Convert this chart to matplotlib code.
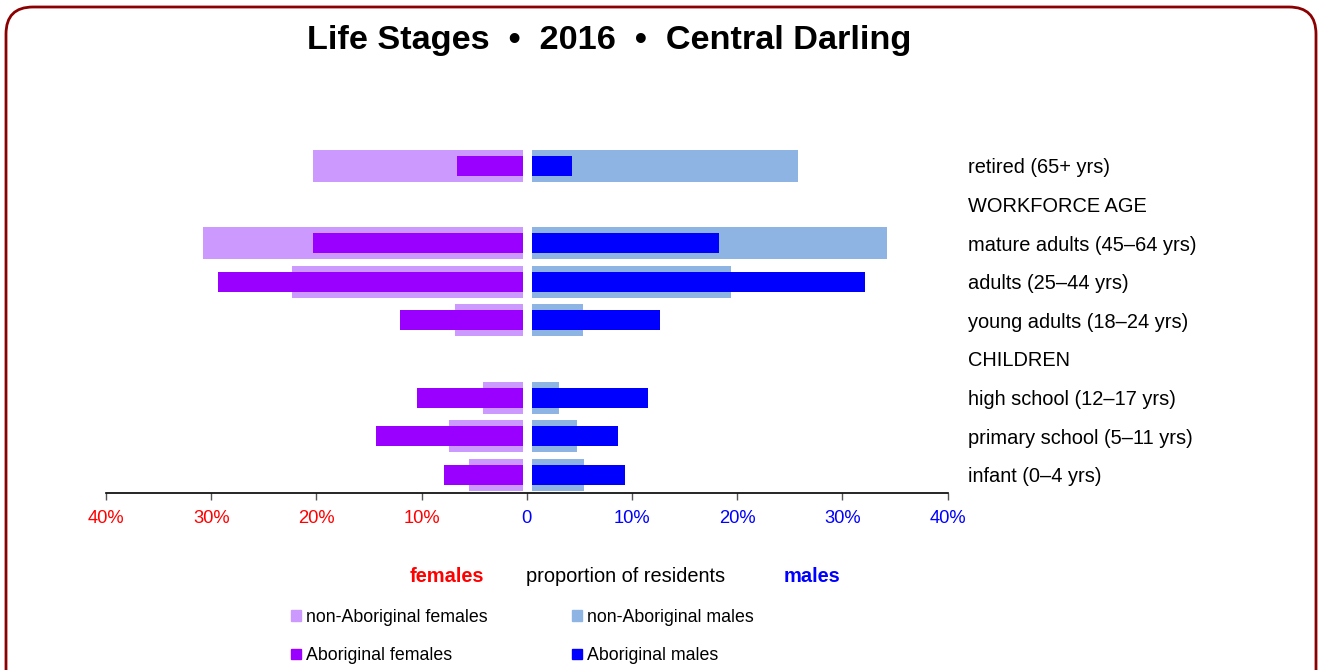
import matplotlib
matplotlib.use("Agg")
import matplotlib.pyplot as plt
from matplotlib.patches import Patch, FancyBboxPatch
import numpy as np

plt.rcParams['font.family'] = ['Liberation Sans', 'DejaVu Sans']

stages = ['retired (65+ yrs)', 'WORKFORCE AGE', 'mature adults (45\u201364 yrs)',
          'adults (25\u201344 yrs)', 'young adults (18\u201324 yrs)', 'CHILDREN',
          'high school (12\u201317 yrs)', 'primary school (5\u201311 yrs)',
          'infant (0\u20134 yrs)']
nonab_f = [20.3, 0, 30.8, 22.3, 6.8, 0, 4.2, 7.4, 5.5]
ab_f = [6.6, 0, 20.3, 29.4, 12.1, 0, 10.4, 14.3, 7.9]
nonab_m = [25.8, 0, 34.2, 19.4, 5.35, 0, 3.1, 4.8, 5.4]
ab_m = [4.3, 0, 18.3, 32.1, 12.7, 0, 11.5, 8.7, 9.3]
ticks = [-40, -30, -20, -10, 0, 10, 20, 30, 40]

c_nonab_f = '#CC99FF'
c_ab_f = '#9900FF'
c_nonab_m = '#8EB4E3'
c_ab_m = '#0000FF'
red = '#FF0000'
blue = '#0000FF'

fig = plt.figure(figsize=(13.2, 6.7), dpi=100)
ax = fig.add_axes([106 / 1320, 1 - 493.3 / 670, (947.7 - 106) / 1320, (493.3 - 146.7) / 670])

y = np.arange(len(stages))
gap_l, gap_r = 0.38, 0.5
wide, narrow = 0.83, 0.52


def widths(vals, gap):
    return np.maximum(np.array(vals) - gap, 0)


ax.barh(y, -widths(nonab_f, gap_l), left=-gap_l, height=wide, color=c_nonab_f)
ax.barh(y, -widths(ab_f, gap_l), left=-gap_l, height=narrow, color=c_ab_f)
ax.barh(y, widths(nonab_m, gap_r), left=gap_r, height=wide, color=c_nonab_m)
ax.barh(y, widths(ab_m, gap_r), left=gap_r, height=narrow, color=c_ab_m)

ax.set_xlim(-40, 40)
ax.set_ylim(8.48, -0.5)
for s in ['top', 'left', 'right']:
    ax.spines[s].set_visible(False)
ax.spines['bottom'].set_linewidth(1.2)

ax.set_xticks(ticks)
ax.set_xticklabels([f'{abs(t)}%' if t else '0' for t in ticks], fontsize=13.2)
for lbl, t in zip(ax.get_xticklabels(), ticks):
    lbl.set_color(red if t < 0 else blue)
ax.tick_params(axis='x', length=5, width=1, color='#555555', pad=7)

ax.yaxis.tick_right()
ax.set_yticks(y)
ax.set_yticklabels(stages, fontsize=14.4)
ax.tick_params(axis='y', length=0, pad=14.6)

fig.text(609 / 1320, 1 - 41 / 670, 'Life Stages  \u2022  2016  \u2022  Central Darling',
         ha='center', va='center', fontsize=24.7, fontweight='bold')

fig.text(447 / 1320, 1 - 577 / 670, 'females', color=red, fontweight='bold',
         ha='center', va='center', fontsize=14.4)
fig.text(626 / 1320, 1 - 577 / 670, 'proportion of residents', color='black',
         ha='center', va='center', fontsize=14.4)
fig.text(812 / 1320, 1 - 577 / 670, 'males', color=blue, fontweight='bold',
         ha='center', va='center', fontsize=14.4)

leg_kw = dict(loc='center left', frameon=False, fontsize=12.8, borderpad=0,
              borderaxespad=0, handlelength=0.56, handleheight=0.56,
              handletextpad=0.28, labelspacing=1.22)
fig.legend([Patch(color=c_nonab_f), Patch(color=c_ab_f)],
           ['non-Aboriginal females', 'Aboriginal females'],
           bbox_to_anchor=(291 / 1320, 1 - 636.5 / 670), **leg_kw)
fig.legend([Patch(color=c_nonab_m), Patch(color=c_ab_m)],
           ['non-Aboriginal males', 'Aboriginal males'],
           bbox_to_anchor=(572 / 1320, 1 - 636.5 / 670), **leg_kw)

# rounded frame, open at the bottom
frame = FancyBboxPatch((0.06, -0.3), 13.1, 6.93,
                       boxstyle='round,pad=0,rounding_size=0.27',
                       transform=fig.dpi_scale_trans, fill=False,
                       edgecolor='#8B0000', linewidth=2, clip_on=False)
fig.patches.append(frame)

fig.savefig('out.png', dpi=100)
